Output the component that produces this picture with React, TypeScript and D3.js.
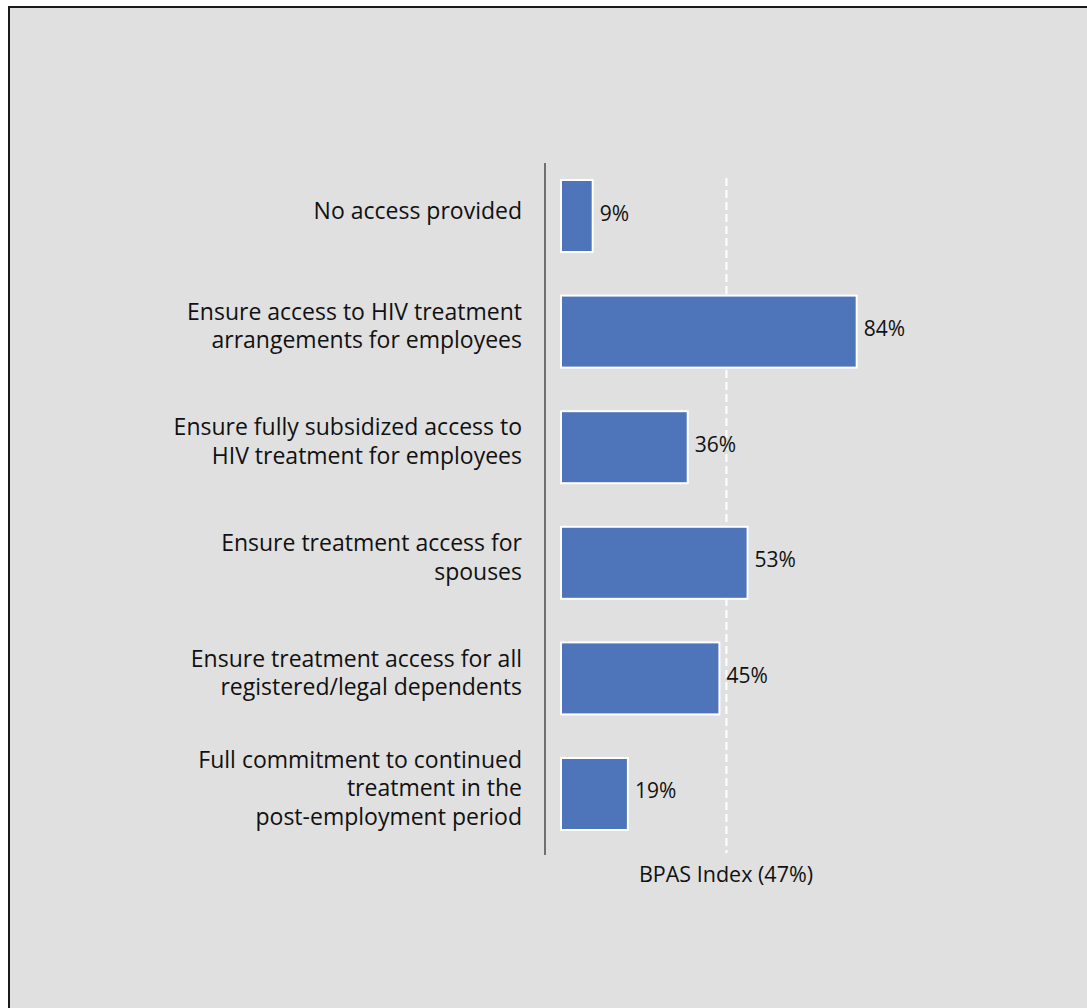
import React from "react";
import * as d3 from "d3";

const categories: string[][] = [
  ["No access provided"],
  ["Ensure access to HIV treatment", "arrangements for employees"],
  ["Ensure fully subsidized access to", "HIV treatment for employees"],
  ["Ensure treatment access for", "spouses"],
  ["Ensure treatment access for all", "registered/legal dependents"],
  ["Full commitment to continued", "treatment in the", "post-employment period"],
];
const values: number[] = [9, 84, 36, 53, 45, 19];
const indexValue = 47;
const indexLabel = "BPAS Index (47%)";

const W = 1087;
const H = 1008;
const FONT = "'Open Sans', 'Liberation Sans', Arial, sans-serif";

export default function App() {
  const x = d3.scaleLinear().domain([0, 100]).range([561, 561 + 352]);
  const y = d3
    .scaleBand<number>()
    .domain(d3.range(values.length))
    .range([180, 830])
    .paddingInner(0.377)
    .paddingOuter(0);
  const lineH = 28.5;
  return (
    <svg
      width={W}
      height={H}
      style={{ position: "absolute", left: 0, top: 0, display: "block" }}
    >
      <rect x={0} y={0} width={W} height={H} fill="#ffffff" />
      <rect x={9} y={7} width={W + 20} height={H + 20} fill="#e0e0e0" stroke="#1a1a1a" strokeWidth={2} />
      <line x1={545} x2={545} y1={163} y2={855} stroke="#000" strokeWidth={1} />
      <line
        x1={x(indexValue)}
        x2={x(indexValue)}
        y1={178}
        y2={853}
        stroke="#ffffff"
        strokeWidth={2}
        strokeDasharray="8,4"
      />
      {values.map((v, i) => (
        <rect
          key={"b" + i}
          x={x(0)}
          y={y(i)!}
          width={x(v) - x(0)}
          height={y.bandwidth()}
          fill="#4e74b9"
          stroke="#ffffff"
          strokeWidth={2}
        />
      ))}
      {values.map((v, i) => (
        <text
          key={"v" + i}
          x={x(v) + 7}
          y={y(i)! + y.bandwidth() / 2 + 4.5}
          fontFamily={FONT}
          fontSize={21}
          fill="#111"
        >
          {v}%
        </text>
      ))}
      {categories.map((lines, i) => {
        const cy = y(i)! + y.bandwidth() / 2;
        const start = cy - ((lines.length - 1) * lineH) / 2 + 2.5;
        return (
          <text
            key={"c" + i}
            x={522}
            textAnchor="end"
            fontFamily={FONT}
            fontSize={23}
            fill="#111"
          >
            {lines.map((l, j) => (
              <tspan key={j} x={522} y={start + j * lineH}>
                {l}
              </tspan>
            ))}
          </text>
        );
      })}
      <text
        x={726}
        y={882}
        textAnchor="middle"
        fontFamily={FONT}
        fontSize={21.5}
        fill="#111"
      >
        {indexLabel}
      </text>
    </svg>
  );
}
